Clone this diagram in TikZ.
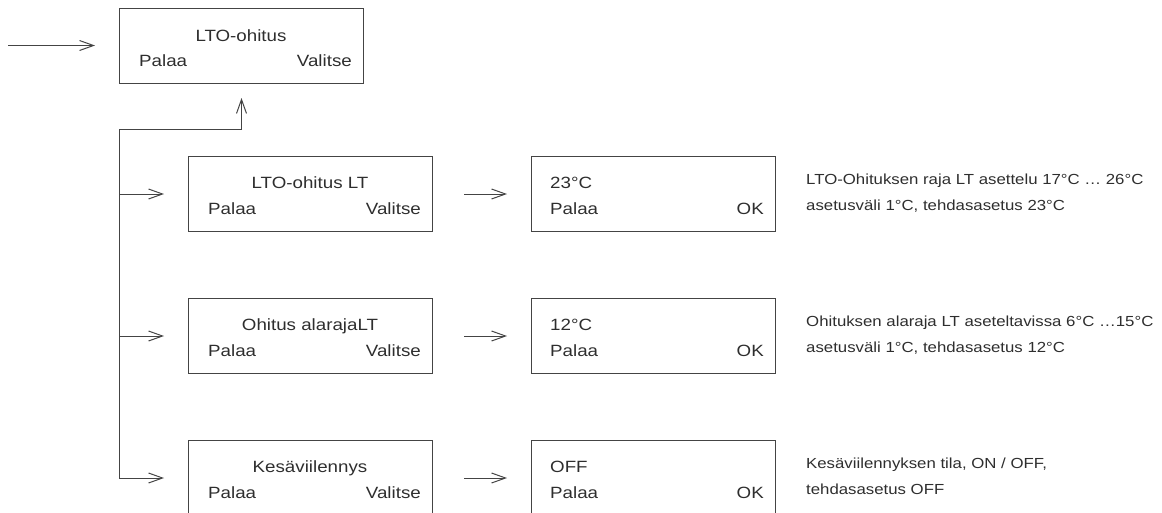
\documentclass[tikz,border=0pt]{standalone}
\usepackage{fontspec}
\setmainfont{Liberation Sans}[FakeStretch=1.15]
\usetikzlibrary{arrows.meta}
\definecolor{ink}{HTML}{2E2E2E}
\definecolor{wire}{HTML}{444444}
\begin{document}
\begin{tikzpicture}[x=1pt,y=-1pt,
  box/.style={draw=wire, line width=1pt, minimum width=244pt, minimum height=75pt, inner sep=0pt, anchor=north west},
  txt/.style={inner sep=0pt, text=ink, font=\fontsize{16.3}{20}\selectfont},
  desc/.style={inner sep=0pt, text=ink, anchor=base west, font=\fontsize{14.6}{18}\selectfont},
  arr/.style={draw=wire, line width=1pt, -{Straight Barb[length=14pt,width=10pt]}}]
\useasboundingbox (0,0) rectangle (1162,512);

% top box
\node[box] (top) at (119,8) {};
\node[txt,anchor=base] (topt) at (241,41) {LTO-ohitus};
\node[txt,anchor=base west] (topp) at (139,66) {Palaa};
\node[txt,anchor=base east] (topv) at (352,66) {Valitse};

% row 1
\node[box] (l1) at (188,156) {};
\node[txt,anchor=base] (l1t) at (310,188) {LTO-ohitus LT};
\node[txt,anchor=base west] (l1p) at (208,214) {Palaa};
\node[txt,anchor=base east] (l1v) at (421,214) {Valitse};
\node[box] (r1) at (531,156) {};
\node[txt,anchor=base west] (r1t) at (550,188) {23°C};
\node[txt,anchor=base west] (r1p) at (550,214) {Palaa};
\node[txt,anchor=base east] (r1o) at (764,214) {OK};
\node[desc] (d1a) at (806,184) {LTO-Ohituksen raja LT asettelu 17°C … 26°C};
\node[desc] (d1b) at (806,210) {asetusväli 1°C, tehdasasetus 23°C};

% row 2
\node[box] (l2) at (188,298) {};
\node[txt,anchor=base] (l2t) at (310,330) {Ohitus alarajaLT};
\node[txt,anchor=base west] (l2p) at (208,356) {Palaa};
\node[txt,anchor=base east] (l2v) at (421,356) {Valitse};
\node[box] (r2) at (531,298) {};
\node[txt,anchor=base west] (r2t) at (550,330) {12°C};
\node[txt,anchor=base west] (r2p) at (550,356) {Palaa};
\node[txt,anchor=base east] (r2o) at (764,356) {OK};
\node[desc] (d2a) at (806,326) {Ohituksen alaraja LT aseteltavissa 6°C …15°C};
\node[desc] (d2b) at (806,352) {asetusväli 1°C, tehdasasetus 12°C};

% row 3
\node[box] (l3) at (188,440) {};
\node[txt,anchor=base] (l3t) at (310,472) {Kesäviilennys};
\node[txt,anchor=base west] (l3p) at (208,498) {Palaa};
\node[txt,anchor=base east] (l3v) at (421,498) {Valitse};
\node[box] (r3) at (531,440) {};
\node[txt,anchor=base west] (r3t) at (550,472) {OFF};
\node[txt,anchor=base west] (r3p) at (550,498) {Palaa};
\node[txt,anchor=base east] (r3o) at (764,498) {OK};
\node[desc] (d3a) at (806,468) {Kesäviilennyksen tila, ON / OFF,};
\node[desc] (d3b) at (806,494) {tehdasasetus OFF};

% connectors
\coordinate (in) at (8,45.5);
\coordinate (tk) at (119,129);
\draw[arr, shorten >=24pt] (in) -- (in -| top.west);
\draw[arr, shorten >=14pt] (tk |- l3.west) -- (tk) -| (top.south);
\foreach \k in {1,2,3}{
  \draw[arr, shorten >=24pt] (tk |- l\k.west) -- (l\k.west);
  \draw[arr, shorten <=31pt, shorten >=24pt] (l\k.east) -- (r\k.west);
}
\end{tikzpicture}
\end{document}
